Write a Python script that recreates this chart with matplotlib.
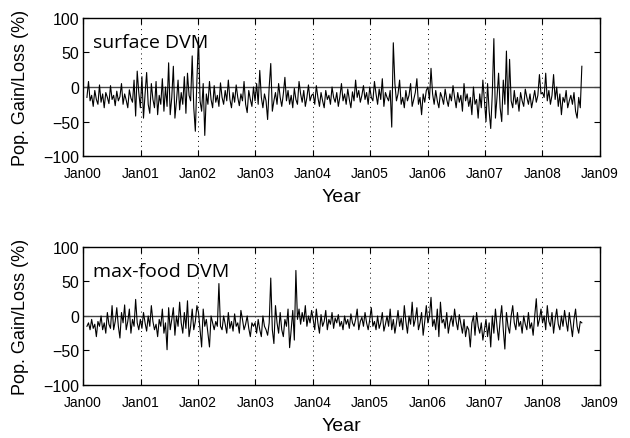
import numpy as np
import pandas as pd
import matplotlib
matplotlib.use("Agg")
import matplotlib.pyplot as plt
import matplotlib.dates as mdates

# population gain/loss (%), ~10-day steps from late Jan 2000
surface = (
    # 2000
    [-15, 8, -20, -12, -28, -5, -18, -25, 3, -22, -10, -30, -8, -15, -24, 2, -18,
     -12, -27, -6, -20, -14, 5, -25, -10, -19, -30, -4, -16, -22, 10, -42, 23, -8]
    # 2001
    + [-30, 15, -45, -10, 21, -25, -38, 5, -18, -30, 8, -40, -12, -25, 12, -35, 0,
       -28, 35, -40, -15, 30, -45, -20, 10, -33, -8, -25, 15, -38, 20, -12, -20, 45,
       -30, -64, 10]
    # 2002
    + [72, -20, -35, 5, -70, -10, -25, 8, -18, -30, 2, -22, -12, -28, 6, -15, -25,
       -5, -20, 10, -18, -30, -8, -22, 3, -15, -27, -10, -20, 8, -25, -37, -5, -18,
       -28, 0]
    # 2003
    + [-20, 5, -25, 24, -15, -30, -10, -20, -47, 0, 34, -35, -20, -8, -25, 5, -15,
       -28, -10, 14, -20, -5, -25, -12, -30, -2, -18, -25, 8, -10, -22, -5, -28, -15,
       3, -20, -12]
    # 2004
    + [-10, -25, 2, -15, -28, -8, -20, -30, -5, -18, -12, -25, 0, -15, -22, -8, -28,
       -14, 5, -20, -10, -25, -3, -18, -30, -7, -20, 10, -15, -5, -22, -12, 2, -18,
       -8, -25]
    # 2005
    + [0, -15, -20, 8, -10, -25, -3, -18, 12, -28, -8, -15, -20, -5, -58, 64, 5, -20,
       -10, 10, -25, -15, -30, -5, -20, -12, 5, -28, -18, -8, 12, -25, -15, -40, -10,
       -22, -5]
    # 2006
    + [0, -18, 27, -10, -25, -5, -20, -30, -8, -15, -25, -3, -18, -28, -10, -20, 2,
       -15, -30, -8, -22, -12, -35, 5, -20, -10, -28, -15, -40, 0, -25, -18, -45, -10,
       -30, 10]
    # 2007
    + [-20, -50, 5, -35, -60, -10, 70, -45, -15, 20, -30, -50, 10, -25, 52, -40, 40,
       -20, -30, -5, -25, -15, -35, -8, -20, -28, -3, -15, -25, -10, -30, -18, -5,
       -22, -12, 18, -10]
    # 2008
    + [-8, -15, 20, -20, -5, -25, -12, 18, -18, 0, -28, -10, -40, -15, -22, -5, -30,
       -20, -12, -25, -8, -35, -45, -15, -30, 30]
)

maxfood = (
    # 2000
    [-15, -10, -20, -5, -18, -12, -30, -8, -15, 0, -20, -10, -25, 5, -12, -18, 15,
     -20, -8, 12, -15, -32, 5, -10, 16, -20, -8, 10, -25, -5, -15, 24, -10, -20]
    # 2001
    + [-5, -18, 5, -10, -22, 0, -15, 15, -8, -20, -12, -30, -5, -15, 10, -25, -10,
       -49, 12, -20, -5, 12, -28, 0, -15, 20, -10, -25, 5, -18, 22, -30, -15, 10, -20,
       -8, 15]
    # 2002
    + [5, -20, -45, 10, -15, -5, -25, -45, 0, -10, -20, -8, -15, 47, -15, -20, 0, -12,
       -25, 5, -18, -8, -22, 3, -15, -10, -25, 8, -5, -20, -12, 0, -18, -30, -10, -15]
    # 2003
    + [-10, -25, -5, -20, -30, 0, -15, -20, -28, -10, 55, -20, -40, 15, -10, -25, 5,
       -20, -30, -5, -15, 10, -46, -20, 8, -35, 66, -5, 10, -12, 5, -8, 15, -15, 0,
       -10, 8]
    # 2004
    + [-5, -20, 10, -10, -25, 2, -15, -8, 8, -20, -5, -12, 5, -18, -3, -10, 2, -15,
       -8, -20, 0, -12, -5, -18, 3, -10, -15, -5, 10, -20, -8, -2, -15, 5, -10, -20]
    # 2005
    + [-5, 12, -15, -8, -20, 0, -18, -10, 5, -22, -12, 0, -15, 10, -20, -5, -25, -10,
       8, -15, -3, -20, 15, -8, -25, 0, -12, 20, -15, -5, 12, -20, -10, 5, -28, -8, 15]
    # 2006
    + [-10, 0, 27, -15, -5, -20, 10, -30, 20, -10, -5, -18, 5, -25, -10, 0, -15, 10,
       -8, -20, 2, -12, -25, -5, -30, -15, -20, -45, -10, 0, -28, 5, -15, -25, -10, -35]
    # 2007
    + [-20, -5, -30, -10, -45, 0, -25, 10, -15, -35, -5, 15, -20, -48, 5, -15, -25, 0,
       15, -10, -20, 5, -15, -8, -25, 0, -12, -20, 5, -18, -10, -28, 0, 25, -15, -5, 10]
    # 2008
    + [-10, 0, -20, 15, -8, -15, 5, -25, -5, 10, -12, -20, 0, -15, 8, -8, -22, 5, -12,
       -30, -5, 10, -15, -25, -8, -10]
)

panel_names = ["surface DVM", "max-food DVM"]
yticks = [-100, -50, 0, 50, 100]
years = pd.date_range("2000-01-01", "2009-01-01", freq="YS")

dates_s = pd.date_range("2000-01-25", periods=len(surface), freq="10D")
dates_m = pd.date_range("2000-01-25", periods=len(maxfood), freq="10D")

plt.rcParams["font.family"] = "Liberation Sans"
plt.rcParams["axes.unicode_minus"] = True

fig = plt.figure(figsize=(6.3, 4.39), dpi=100)
ax1 = fig.add_axes([0.132, 0.642, 0.820, 0.315])
ax2 = fig.add_axes([0.132, 0.121, 0.820, 0.314])

for ax, d, y, name in zip([ax1, ax2], [dates_s, dates_m], [surface, maxfood], panel_names):
    for yr in years[1:-1]:
        ax.axvline(yr, color="black", lw=0.7, ls=(0, (1, 4)), zorder=1)
    ax.axhline(0, color="#444444", lw=1.0, zorder=2)
    ax.plot(d, y, color="black", lw=0.8, zorder=3)
    ax.set_xlim(years[0], years[-1])
    ax.set_ylim(-100, 100)
    ax.set_yticks(yticks)
    ax.set_xticks(years)
    ax.xaxis.set_major_formatter(mdates.DateFormatter("Jan%y"))
    ax.tick_params(direction="in", top=True, right=True, length=4, width=0.8)
    ax.tick_params(axis="y", labelsize=11.5, pad=3)
    ax.tick_params(axis="x", labelsize=10, pad=7)
    for s in ax.spines.values():
        s.set_linewidth(1.0)
    ax.set_xlabel("Year", fontsize=14, labelpad=6)
    ax.set_ylabel("Pop. Gain/Loss (%)", fontsize=13, labelpad=10)
    ax.text(0.02, 0.79, name, transform=ax.transAxes, fontsize=14,
            family="Open Sans", va="baseline", ha="left")

fig.savefig("out.png", dpi=100)
